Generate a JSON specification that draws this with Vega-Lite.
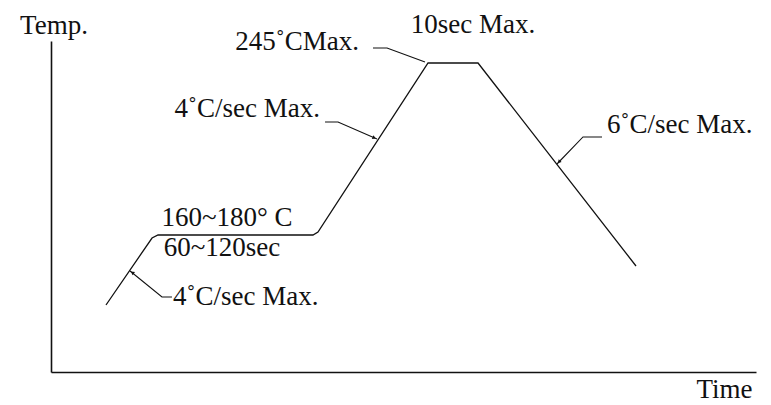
{
  "$schema": "https://vega.github.io/schema/vega-lite/v6.json",
  "width": 705,
  "height": 331,
  "autosize": {"type": "none"},
  "padding": {"left": 51, "top": 41, "right": 15, "bottom": 33},
  "background": "white",
  "config": {
    "view": {"stroke": null},
    "font": "Liberation Serif",
    "text": {"font": "Liberation Serif", "fontSize": 27, "color": "#111"}
  },
  "datasets": {
    "profile": [
      {"time": 7.80, "temp": 20.24},
      {"time": 14.33, "temp": 40.48},
      {"time": 15.18, "temp": 41.39},
      {"time": 37.16, "temp": 41.39},
      {"time": 37.87, "temp": 42.30},
      {"time": 53.48, "temp": 93.35},
      {"time": 60.57, "temp": 93.35},
      {"time": 82.98, "temp": 32.02}
    ],
    "leaders": [
      {"id": "peak", "ord": 1, "time": 45.67, "temp": 97.89},
      {"id": "peak", "ord": 2, "time": 47.66, "temp": 97.89},
      {"id": "peak", "ord": 3, "time": 53.05, "temp": 93.66},
      {"id": "ramp2", "ord": 1, "time": 38.87, "temp": 75.53},
      {"id": "ramp2", "ord": 2, "time": 40.71, "temp": 75.53},
      {"id": "ramp2", "ord": 3, "time": 46.24, "temp": 70.39},
      {"id": "cool", "ord": 1, "time": 78.16, "temp": 71.00},
      {"id": "cool", "ord": 2, "time": 75.46, "temp": 71.00},
      {"id": "cool", "ord": 3, "time": 71.77, "temp": 62.84},
      {"id": "ramp1", "ord": 1, "time": 17.16, "temp": 22.66},
      {"id": "ramp1", "ord": 2, "time": 15.74, "temp": 22.66},
      {"id": "ramp1", "ord": 3, "time": 11.21, "temp": 30.51}
    ],
    "arrows": [
      {"id": "ramp2", "time": 45.85, "temp": 70.75},
      {"id": "cool", "time": 72.05, "temp": 63.45},
      {"id": "ramp1", "time": 11.55, "temp": 30.05}
    ],
    "labels_center": [
      {"label": "10sec Max.", "time": 59.86, "temp": 102.42},
      {"label": "160~180° C", "time": 24.96, "temp": 44.11},
      {"label": "60~120sec", "time": 24.26, "temp": 35.05}
    ],
    "labels_right": [
      {"label": "245˚CMax.", "time": 43.69, "temp": 97.28},
      {"label": "4˚C/sec Max.", "time": 38.16, "temp": 77.04}
    ],
    "labels_left": [
      {"label": "6˚C/sec Max.", "time": 78.87, "temp": 72.21},
      {"label": "4˚C/sec Max.", "time": 17.30, "temp": 20.24}
    ]
  },
  "encoding": {
    "x": {
      "field": "time", "type": "quantitative",
      "scale": {"domain": [0, 100], "nice": false, "zero": false},
      "axis": {
        "title": "Time", "ticks": false, "labels": false, "grid": false,
        "domainColor": "#111", "domainWidth": 1.6,
        "titleFont": "Liberation Serif", "titleFontSize": 27, "titleFontWeight": "normal",
        "titleColor": "#111", "titleAlign": "right", "titleAnchor": null,
        "titleBaseline": "alphabetic", "titleX": 701, "titleY": 25
      }
    },
    "y": {
      "field": "temp", "type": "quantitative",
      "scale": {"domain": [0, 100], "nice": false, "zero": false},
      "axis": {
        "title": "Temp.", "ticks": false, "labels": false, "grid": false,
        "domainColor": "#111", "domainWidth": 1.6,
        "titleFont": "Liberation Serif", "titleFontSize": 27, "titleFontWeight": "normal",
        "titleColor": "#111", "titleAngle": 0, "titleAlign": "center", "titleAnchor": null,
        "titleBaseline": "alphabetic", "titleX": 2.5, "titleY": -8
      }
    }
  },
  "layer": [
    {
      "data": {"name": "profile"},
      "mark": {"type": "line", "color": "#111", "strokeWidth": 1.3, "clip": false}
    },
    {
      "data": {"name": "leaders"},
      "mark": {"type": "line", "color": "#111", "strokeWidth": 1.1, "clip": false},
      "encoding": {"detail": {"field": "id"}, "order": {"field": "ord"}}
    },
    {
      "data": {"name": "arrows"},
      "transform": [{"filter": "datum.id === 'ramp2'"}],
      "mark": {"type": "point", "shape": "triangle-up", "filled": true, "color": "#111", "size": 16, "angle": 113.6, "opacity": 1}
    },
    {
      "data": {"name": "arrows"},
      "transform": [{"filter": "datum.id === 'cool'"}],
      "mark": {"type": "point", "shape": "triangle-up", "filled": true, "color": "#111", "size": 16, "angle": 224, "opacity": 1}
    },
    {
      "data": {"name": "arrows"},
      "transform": [{"filter": "datum.id === 'ramp1'"}],
      "mark": {"type": "point", "shape": "triangle-up", "filled": true, "color": "#111", "size": 16, "angle": 309, "opacity": 1}
    },
    {
      "data": {"name": "labels_center"},
      "mark": {"type": "text", "align": "center", "baseline": "alphabetic"},
      "encoding": {"text": {"field": "label"}}
    },
    {
      "data": {"name": "labels_right"},
      "mark": {"type": "text", "align": "right", "baseline": "alphabetic"},
      "encoding": {"text": {"field": "label"}}
    },
    {
      "data": {"name": "labels_left"},
      "mark": {"type": "text", "align": "left", "baseline": "alphabetic"},
      "encoding": {"text": {"field": "label"}}
    }
  ]
}
